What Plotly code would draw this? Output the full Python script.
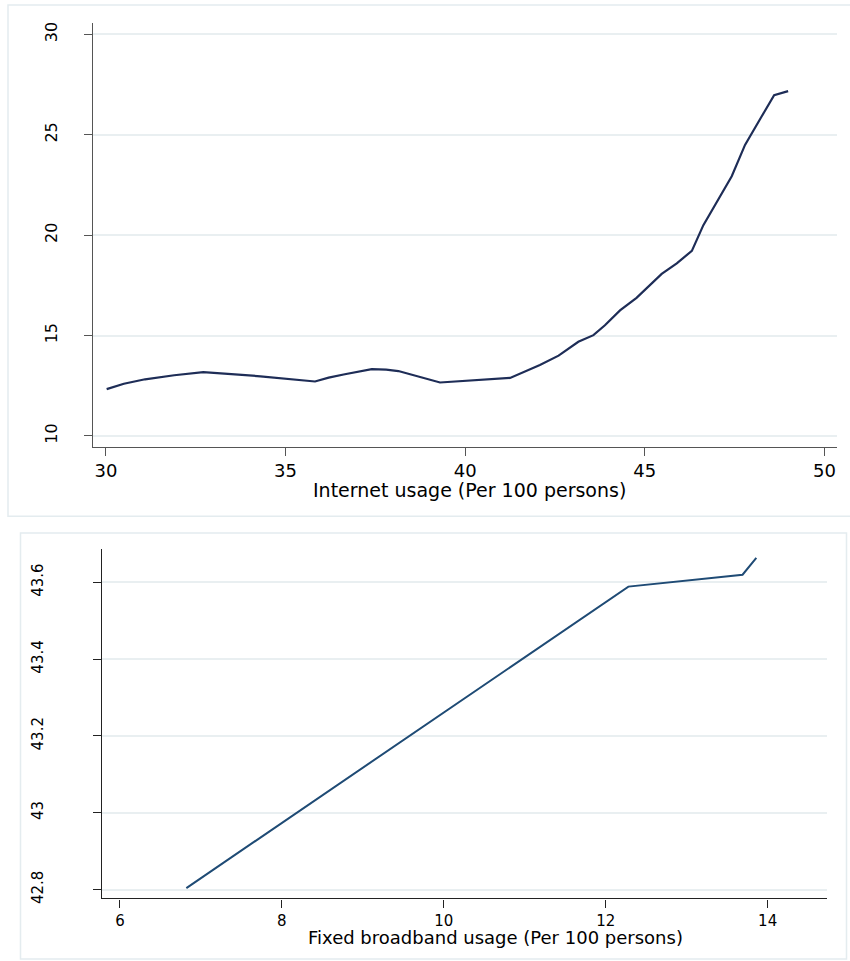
import plotly.graph_objects as go

# Top panel: Internet usage (Per 100 persons) vs value
internet_x = [30.02, 30.5, 31.09, 31.9, 32.71, 34.3, 35.82, 36.2, 36.65, 37.40, 37.8, 38.14,
              39.30, 40.60, 41.25, 42.08, 42.6, 43.15, 43.57, 43.89, 44.31, 44.77, 45.14,
              45.47, 45.89, 46.31, 46.63, 47.05, 47.42, 47.79, 48.16, 48.60, 48.99]
internet_y = [12.33, 12.6, 12.82, 13.02, 13.18, 12.97, 12.71, 12.9, 13.07, 13.33, 13.3, 13.23,
              12.66, 12.82, 12.89, 13.53, 14.0, 14.69, 15.02, 15.51, 16.25, 16.88, 17.49,
              18.07, 18.6, 19.22, 20.5, 21.78, 22.94, 24.5, 25.66, 26.98, 27.18]

# Bottom panel: Fixed broadband usage (Per 100 persons) vs value
broadband_x = [6.82, 12.28, 13.69, 13.86]
broadband_y = [42.804, 43.589, 43.62, 43.664]

top_xticks = [30, 35, 40, 45, 50]
top_yticks = [10, 15, 20, 25, 30]
bot_xticks = [6, 8, 10, 12, 14]
bot_yticks = [42.8, 43.0, 43.2, 43.4, 43.6]
bot_yticklabels = ["42.8", "43", "43.2", "43.4", "43.6"]

W, H = 850, 961
FONT = "DejaVu Sans"
GRID = "#e9eff1"
BORDER = "#e4ecef"

def px_x(p):
    return p / W

def px_y(p):
    return 1 - p / H

fig = go.Figure()
fig.add_trace(go.Scatter(x=internet_x, y=internet_y, mode="lines",
                         line=dict(color="#1e2d57", width=2.2), xaxis="x", yaxis="y",
                         showlegend=False, hoverinfo="skip"))
fig.add_trace(go.Scatter(x=broadband_x, y=broadband_y, mode="lines",
                         line=dict(color="#1f4b75", width=2), xaxis="x2", yaxis="y2",
                         showlegend=False, hoverinfo="skip"))

common_axis = dict(showline=True, ticks="outside", ticklen=8, zeroline=False)

fig.update_layout(
    width=W, height=H,
    margin=dict(l=0, r=0, t=0, b=0),
    paper_bgcolor="white", plot_bgcolor="white",
    font=dict(family=FONT, color="#000000"),
    xaxis=dict(domain=[px_x(93), px_x(837)], anchor="y", range=[29.64, 50.35],
               tickvals=top_xticks, showgrid=False, linecolor="#555555", tickcolor="#555555",
               tickwidth=1.3, linewidth=1.3,
               tickfont=dict(size=18, family=FONT, color="#000"), ticklabelstandoff=0,
               **common_axis),
    yaxis=dict(domain=[px_y(449), px_y(22)], anchor="x", range=[9.46, 30.58],
               tickvals=top_yticks, showgrid=True, gridcolor=GRID, gridwidth=1.5,
               linecolor="#555555", tickcolor="#555555", tickwidth=1.3, linewidth=1.3,
               tickangle=-90, tickfont=dict(size=16, family=FONT, color="#000"),
               ticklabelstandoff=20, **common_axis),
    xaxis2=dict(domain=[px_x(102), px_x(827)], anchor="y2", range=[5.778, 14.733],
                tickvals=bot_xticks, showgrid=False, linecolor="#222222", tickcolor="#222222",
                tickwidth=1.2, linewidth=1.3,
                tickfont=dict(size=15, family=FONT, color="#000"), ticklabelstandoff=0,
                **common_axis),
    yaxis2=dict(domain=[px_y(904), px_y(552)], anchor="x2", range=[42.777, 43.687],
                tickvals=bot_yticks, ticktext=bot_yticklabels, showgrid=True,
                gridcolor=GRID, gridwidth=1.5, linecolor="#222222", tickcolor="#222222",
                tickwidth=1.2, linewidth=1.3, tickangle=-90,
                tickfont=dict(size=15, family=FONT, color="#000"), ticklabelstandoff=44,
                **common_axis),
    shapes=[
        dict(type="rect", xref="paper", yref="paper", x0=px_x(8), x1=px_x(853),
             y0=px_y(519), y1=px_y(4), line=dict(color=BORDER, width=1.5), layer="below"),
        dict(type="rect", xref="paper", yref="paper", x0=px_x(20.5), x1=px_x(846.5),
             y0=px_y(965), y1=px_y(536), line=dict(color=BORDER, width=1.5), layer="below"),
    ],
    annotations=[
        dict(text="Internet usage (Per 100 persons)", xref="paper", yref="paper",
             x=px_x(469), y=px_y(493), showarrow=False, xanchor="center", yanchor="middle",
             font=dict(size=19, family=FONT, color="#000")),
        dict(text="Fixed broadband usage (Per 100 persons)", xref="paper", yref="paper",
             x=px_x(495), y=px_y(943), showarrow=False, xanchor="center", yanchor="middle",
             font=dict(size=18, family=FONT, color="#000")),
    ],
)

fig.write_html("out.html", config={"displayModeBar": False},
               post_script="document.body.style.margin='0';document.body.style.overflow='hidden';")
